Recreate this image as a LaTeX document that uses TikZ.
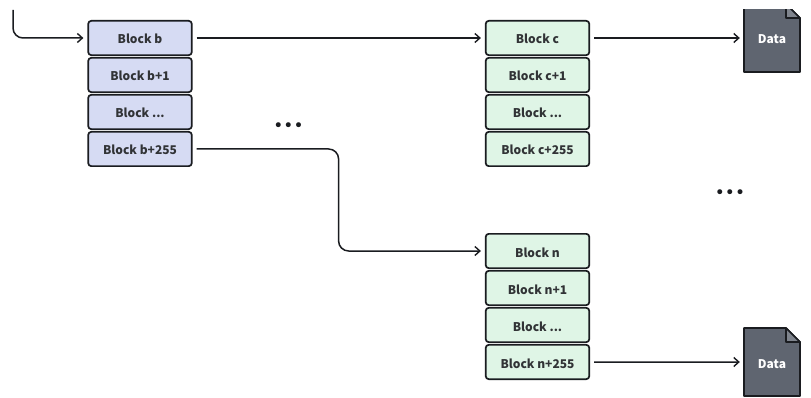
\documentclass[tikz,border=0pt]{standalone}
\usepackage{fontspec}
\setmainfont{Noto Sans CJK SC}
\newfontfamily\dotsfont{DejaVu Sans}
\usetikzlibrary{arrows.meta, positioning}

\definecolor{blockblue}{HTML}{D6DBF3}
\definecolor{blockgreen}{HTML}{DFF5E6}
\definecolor{filegray}{HTML}{5F6570}
\definecolor{foldgray}{HTML}{7F848D}
\definecolor{inkdark}{HTML}{1A1C20}

\tikzset{
  block/.style={draw=inkdark, line width=1.7pt, rounded corners=3pt, minimum width=103.5pt, minimum height=34.3pt, inner sep=0pt, text height=13pt, text depth=1pt, text=inkdark!90, font=\fontsize{12}{14}\selectfont\bfseries},
  blockb/.style={block, fill=blockblue},
  blockc/.style={block, fill=blockgreen},
  flow/.style={-{Straight Barb[length=5pt, width=9pt, line width=1.4pt]}, line width=1.5pt, draw=inkdark, rounded corners=10pt},
  datafile/.style={minimum width=56pt, minimum height=68pt, inner sep=0pt, text height=13pt, text depth=1pt, text=white, font=\fontsize{12}{14}\selectfont\bfseries},
  moredots/.style={text=inkdark, font=\dotsfont\fontsize{17}{19}\selectfont}
}

\begin{document}
\begin{tikzpicture}[x=1pt, y=1pt, node distance=1pt]
   \useasboundingbox (0,0) rectangle (811,-398);
   \clip (0,-10) rectangle (811,-398);

   % first column
   \node[blockb] (b0) at (140,-38) {Block b};
   \node[blockb, below=of b0] (b1) {Block b+1};
   \node[blockb, below=of b1] (b2) {Block ...};
   \node[blockb, below=of b2] (b255) {Block b+255};

   % second column
   \node[blockc] (c0) at (537.5,-38) {Block c};
   \node[blockc, below=of c0] (c1) {Block c+1};
   \node[blockc, below=of c1] (c2) {Block ...};
   \node[blockc, below=of c2] (c255) {Block c+255};

   \node[blockc] (n0) at (537.5,-251) {Block n};
   \node[blockc, below=of n0] (n1) {Block n+1};
   \node[blockc, below=of n1] (n2) {Block ...};
   \node[blockc, below=of n2] (n255) {Block n+255};

   % data files
   \foreach \name/\ypos in {datac/-38, datan/-362} {
     \coordinate (\name mid) at (772,\ypos);
     \draw[draw=inkdark, fill=filegray, line width=1.7pt, line join=round] ([shift={(-28,34)}]\name mid) -- ([shift={(14,34)}]\name mid) -- ([shift={(28,20)}]\name mid) -- ([shift={(28,-34)}]\name mid) -- ([shift={(-28,-34)}]\name mid) -- cycle;
     \draw[draw=inkdark, fill=foldgray, line width=1.7pt, line join=round] ([shift={(14,34)}]\name mid) -- ([shift={(14,20)}]\name mid) -- ([shift={(28,20)}]\name mid) -- cycle;
     \node[datafile] (\name) at (\name mid) {Data};
   }

   \node[moredots] (dotsb) at (288.5,-127) {•••};
   \node[moredots] (dotsc) at (730,-194) {•••};

   \coordinate (start) at (13,-10);
   \draw[flow] (start) |- ([xshift=-4pt]b0.west);
   \draw[flow] ([xshift=4pt]b0.east) -- ([xshift=-4pt]c0.west);
   \draw[flow] ([xshift=4pt]c0.east) -- ([xshift=-4pt]datac.west);
   \draw[flow] ([xshift=4pt]b255.east) -- ++(142,0) |- ([xshift=-4pt]n0.west);
   \draw[flow] ([xshift=4pt]n255.east) -- ([xshift=-4pt]datan.west);
 \end{tikzpicture}
\end{document}
